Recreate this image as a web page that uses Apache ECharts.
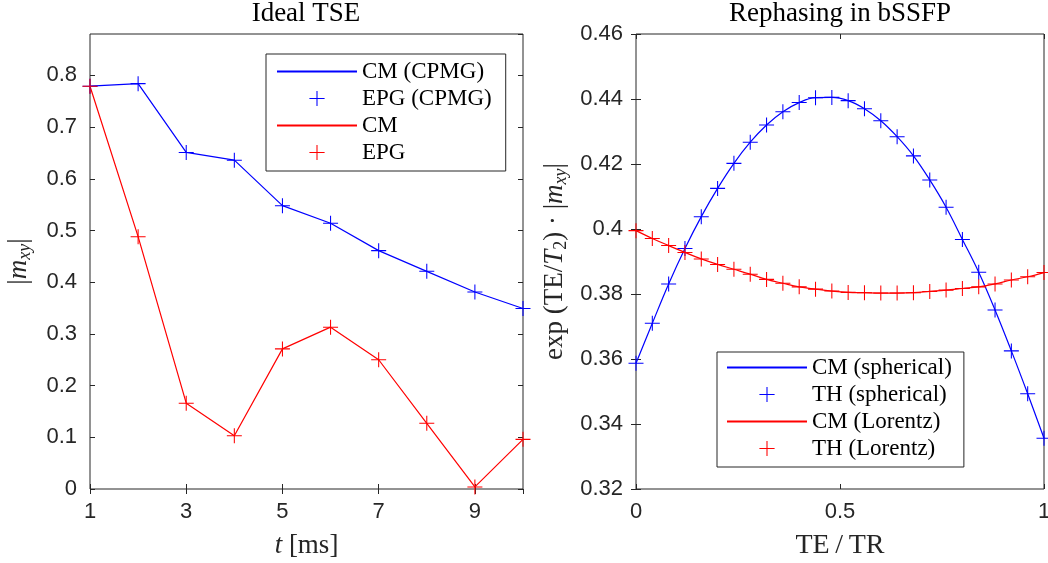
<!DOCTYPE html>
<html><head><meta charset="utf-8">
<script src="https://cdn.jsdelivr.net/npm/echarts@6/dist/echarts.min.js"></script>
<style>html,body{margin:0;padding:0;background:#fff}#c{width:1048px;height:563px}</style>
</head><body><div id="c"></div>
<script>
// ---- Left panel: Ideal TSE ----
const tMs = [1, 2, 3, 4, 5, 6, 7, 8, 9, 10];
const cpmgMxy = [0.779, 0.784, 0.651, 0.636, 0.548, 0.514, 0.461, 0.421, 0.381, 0.349];
const epgMxy  = [0.779, 0.488, 0.166, 0.103, 0.271, 0.313, 0.250, 0.127, 0.004, 0.096];
const leftX = [1, 10, 2];      // min, max, interval
const leftY = [0, 0.88, 0.1];

// ---- Right panel: Rephasing in bSSFP ----
const teOverTr = [0, 0.04, 0.08, 0.12, 0.16, 0.2, 0.24, 0.28, 0.32, 0.36, 0.4, 0.44, 0.48,
                  0.52, 0.56, 0.6, 0.64, 0.68, 0.72, 0.76, 0.8, 0.84, 0.88, 0.92, 0.96, 1];
const spherical = [0.3587, 0.3710, 0.3831, 0.3940, 0.4038, 0.4125, 0.4202, 0.4267, 0.4320, 0.4361,
                   0.4389, 0.4404, 0.4405, 0.4395, 0.4370, 0.4333, 0.4284, 0.4225, 0.4151, 0.4067,
                   0.3968, 0.3867, 0.3751, 0.3625, 0.3493, 0.3356];
const lorentz = [0.3995, 0.3971, 0.3949, 0.3928, 0.3908, 0.3891, 0.3876, 0.3861, 0.3845, 0.3833,
                 0.3822, 0.3815, 0.3809, 0.3805, 0.3804, 0.3803, 0.3803, 0.3804, 0.3808, 0.3812,
                 0.3817, 0.3822, 0.3831, 0.3843, 0.3853, 0.3866];
const rightX = [0, 1, 0.5];
const rightY = [0.32, 0.46, 0.02];

const leftNames = ['CM (CPMG)', 'EPG (CPMG)', 'CM', 'EPG'];
const rightNames = ['CM (spherical)', 'TH (spherical)', 'CM (Lorentz)', 'TH (Lorentz)'];

const BLUE = '#0000ff', RED = '#ff0000', AX = '#262626';
const PLUS = 'path://M0,46.5H100V53.5H0Z M46.5,0H53.5V100H46.5Z';
const SANS = 'Liberation Sans', SERIF = 'Liberation Serif';
const TICK_FS = 22;

function pairs(xs, ys) { return xs.map((x, i) => [x, ys[i]]); }

function xAx(grid, r, pos, labels, name, extra) {
  return Object.assign({
    type: 'value', gridIndex: grid, position: pos, min: r[0], max: r[1], interval: r[2],
    axisLine: { show: false }, splitLine: { show: false },
    axisTick: { show: true, inside: true, length: 5, lineStyle: { color: AX, width: 1 } },
    axisLabel: { show: labels, color: AX, fontFamily: SANS, fontSize: TICK_FS, margin: 12, showMaxLabel: false, showMinLabel: true },
    name: name || '', nameLocation: 'middle'
  }, extra || {});
}

const nameStyle = {
  fontFamily: SERIF, fontSize: 27, color: AX, lineHeight: 30,
  rich: {
    i: { fontFamily: SERIF, fontStyle: 'italic', fontSize: 27, lineHeight: 30, color: AX },
    s: { fontFamily: SERIF, fontStyle: 'italic', fontSize: 18, lineHeight: 18, verticalAlign: 'bottom', color: AX },
    n: { fontFamily: SERIF, fontSize: 18, lineHeight: 18, verticalAlign: 'bottom', color: AX }
  }
};

function lineSeries(name, xi, yi, xs, ys, color, smooth) {
  return { type: 'line', name, xAxisIndex: xi, yAxisIndex: yi, data: pairs(xs, ys), symbol: 'none',
    smooth: smooth || false, lineStyle: { color, width: 1.2 }, itemStyle: { color },
    silent: true, animation: false, emphasis: { disabled: true }, clip: false };
}
function markSeries(name, xi, yi, xs, ys, color) {
  return { type: 'line', name, xAxisIndex: xi, yAxisIndex: yi, data: pairs(xs, ys), symbol: PLUS,
    symbolSize: 15, showSymbol: true, showAllSymbol: true, lineStyle: { opacity: 0, color },
    itemStyle: { color }, silent: true, animation: false, emphasis: { disabled: true }, clip: false };
}

function legendCfg(left, top, pad, names) {
  return {
    left, top, orient: 'vertical', itemWidth: 80, itemHeight: 19, itemGap: 0, padding: pad,
    backgroundColor: '#fff', borderColor: AX, borderWidth: 1, borderRadius: 0, selectedMode: false,
    textStyle: { fontFamily: SERIF, fontSize: 23, color: '#000', lineHeight: 27 },
    data: [
      { name: names[0], itemStyle: { opacity: 0 } },
      { name: names[1], lineStyle: { opacity: 0 } },
      { name: names[2], itemStyle: { opacity: 0 } },
      { name: names[3], lineStyle: { opacity: 0 } }
    ]
  };
}

const option = {
  animation: false,
  backgroundColor: '#fff',
  title: [
    { text: 'Ideal TSE', left: 306, top: 0, textAlign: 'center', padding: 0,
      textStyle: { fontFamily: SERIF, fontSize: 27, fontWeight: 'normal', color: '#000' } },
    { text: 'Rephasing in bSSFP', left: 840, top: 0, textAlign: 'center', padding: 0,
      textStyle: { fontFamily: SERIF, fontSize: 27, fontWeight: 'normal', color: '#000' } }
  ],
  legend: [
    legendCfg(266, 54, [4, 14, 5, 10], leftNames),
    legendCfg(717, 352, [2, 12, 5, 9], rightNames)
  ],
  grid: [
    { left: 90, right: 525, top: 34, bottom: 74, show: true, borderColor: AX, borderWidth: 1,
      backgroundColor: 'transparent', containLabel: false, outerBoundsMode: 'none' },
    { left: 636, right: 4, top: 34, bottom: 74, show: true, borderColor: AX, borderWidth: 1,
      backgroundColor: 'transparent', containLabel: false, outerBoundsMode: 'none' }
  ],
  xAxis: [
    xAx(0, leftX, 'bottom', true, '{i|t} [ms]', { nameGap: 42, nameTextStyle: nameStyle }),
    xAx(0, leftX, 'top', false),
    xAx(1, rightX, 'bottom', true, 'TE\u2009/\u2009TR', { nameGap: 42, nameTextStyle: Object.assign({}, nameStyle, { fontSize: 28 }),
      axisLabel: { show: true, color: AX, fontFamily: SANS, fontSize: TICK_FS, margin: 12, showMaxLabel: true } }),
    xAx(1, rightX, 'top', false)
  ],
  yAxis: [
    xAx(0, leftY, 'left', true, '|{i|m}{s|xy}|', { nameGap: 56, nameRotate: 90, nameTextStyle: nameStyle,
      axisLabel: { show: true, color: AX, fontFamily: SANS, fontSize: TICK_FS, margin: 13, showMaxLabel: false } }),
    xAx(0, leftY, 'right', false),
    xAx(1, rightY, 'left', true, 'exp (TE/{i|T}{n|2}) · |{i|m}{s|xy}|', { nameGap: 66, nameRotate: 90, nameTextStyle: nameStyle,
      axisLabel: { show: true, color: AX, fontFamily: SANS, fontSize: TICK_FS, margin: 13, showMaxLabel: true } }),
    xAx(1, rightY, 'right', false)
  ],
  series: [
    lineSeries(leftNames[0], 0, 0, tMs, cpmgMxy, BLUE),
    markSeries(leftNames[1], 0, 0, tMs, cpmgMxy, BLUE),
    lineSeries(leftNames[2], 0, 0, tMs, epgMxy, RED),
    markSeries(leftNames[3], 0, 0, tMs, epgMxy, RED),
    lineSeries(rightNames[0], 2, 2, teOverTr, spherical, BLUE, 0.4),
    markSeries(rightNames[1], 2, 2, teOverTr, spherical, BLUE),
    lineSeries(rightNames[2], 2, 2, teOverTr, lorentz, RED, 0.4),
    markSeries(rightNames[3], 2, 2, teOverTr, lorentz, RED)
  ]
};

const chart = echarts.init(document.getElementById('c'), null, { renderer: 'canvas' });
chart.setOption(option);
</script>
</body></html>
